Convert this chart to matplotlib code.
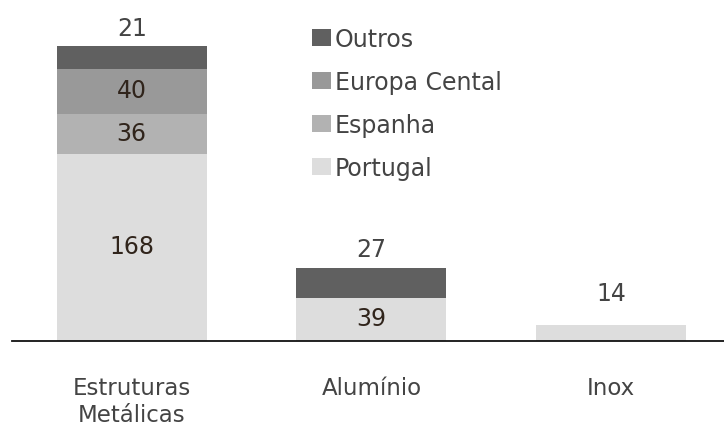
import matplotlib
matplotlib.use("Agg")
import matplotlib.pyplot as plt
import numpy as np

categories = ["Estruturas\nMetálicas", "Alumínio", "Inox"]
series_names = ["Portugal", "Espanha", "Europa Cental", "Outros"]
portugal = [168, 39, 14]
espanha = [36, 0, 0]
europa = [40, 0, 0]
outros = [21, 27, 0]
series = [portugal, espanha, europa, outros]
colors = ["#dddddd", "#b2b2b2", "#999999", "#606060"]

plt.rcParams['font.family'] = ['DejaVu Sans']

W, H = 724, 427
fig = plt.figure(figsize=(W / 100, H / 100), dpi=100)
base_px = 342
px_per_unit = 1.113
ax = fig.add_axes([12 / W, (H - base_px) / H, (W - 12) / W, base_px / H])

x = np.arange(len(categories))
bottom = np.zeros(len(categories))
inner_color = "#30241b"
outer_color = "#444444"
for name, vals, col in zip(series_names, series, colors):
    vals = np.array(vals, dtype=float)
    ax.bar(x, vals, width=150 / 240, bottom=bottom, color=col, label=name)
    for i, v in enumerate(vals):
        if v <= 0:
            continue
        top = bottom[i] + v
        if name == "Outros":
            ax.annotate(f"{int(v)}", (x[i], top), xytext=(0, 4.5), textcoords="offset points",
                        ha="center", va="bottom", fontsize=17, color=outer_color)
        elif v < 20:
            ax.annotate(f"{int(v)}", (x[i], top), xytext=(0, 14.5), textcoords="offset points",
                        ha="center", va="bottom", fontsize=17, color=outer_color)
        else:
            ax.annotate(f"{int(v)}", (x[i], bottom[i] + v / 2), xytext=(0, 1),
                        textcoords="offset points",
                        ha="center", va="center", fontsize=17, color=inner_color)
    bottom += vals

left_px = 12
ax.set_xlim(-(131.7 - left_px) / 239.7, (W - 131.7) / 239.7)
ax.set_ylim(0, base_px / px_per_unit)
for s in ["top", "right", "left"]:
    ax.spines[s].set_visible(False)
ax.spines["bottom"].set_color("#111111")
ax.spines["bottom"].set_linewidth(1.3)
ax.set_yticks([])
ax.set_xticks(x)
ax.set_xticklabels(categories, fontsize=16.5, color=outer_color, linespacing=1.25)
ax.tick_params(axis="x", length=0, pad=25)

handles, labels = ax.get_legend_handles_labels()
leg = ax.legend(handles[::-1], labels[::-1], loc="upper left",
                bbox_to_anchor=(312 / W, 1 - 28 / H), bbox_transform=fig.transFigure,
                frameon=False, fontsize=17, handlelength=0.8, handleheight=0.72,
                handletextpad=0.17, labelspacing=0.8, borderpad=0, borderaxespad=0)
for t in leg.get_texts():
    t.set_color(outer_color)

fig.savefig("out.png", dpi=100)
